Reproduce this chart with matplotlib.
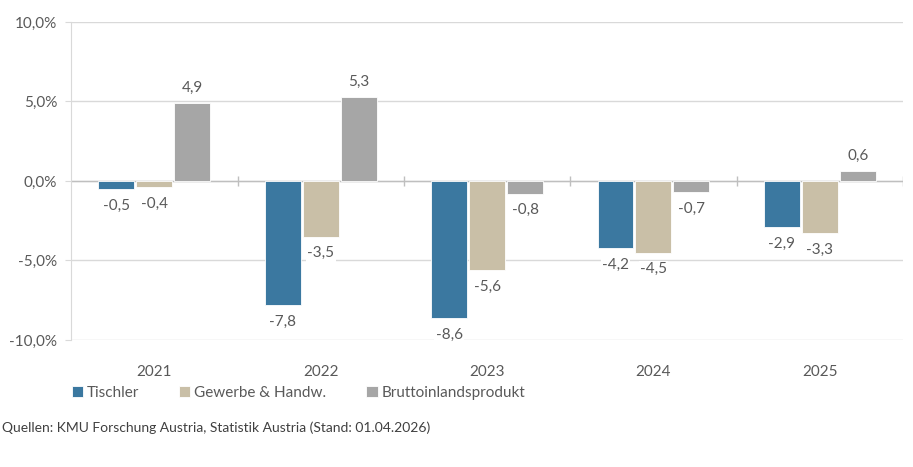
import matplotlib.pyplot as plt
import numpy as np

plt.rcParams['font.family'] = ['Lato', 'DejaVu Sans']

years = ['2021', '2022', '2023', '2024', '2025']
tischler = [-0.5, -7.8, -8.6, -4.2, -2.9]
gewerbe = [-0.4, -3.5, -5.6, -4.5, -3.3]
bip = [4.9, 5.3, -0.8, -0.7, 0.6]
series_names = ['Tischler', 'Gewerbe & Handw.', 'Bruttoinlandsprodukt']
colors = ['#3b78a0', '#c9bfa7', '#a6a6a6']
source = 'Quellen: KMU Forschung Austria, Statistik Austria (Stand: 01.04.2026)'

text_col = '#595959'
fig = plt.figure(figsize=(9.13, 4.67), dpi=100)
ax = fig.add_axes([0.078, 0.272, 0.911, 0.681])

x = np.arange(len(years))
w = 0.216
step = 0.228
for i, (vals, name, c) in enumerate(zip([tischler, gewerbe, bip], series_names, colors)):
    pos = x + (i - 1) * step
    ax.bar(pos, vals, width=w, color=c, label=name, zorder=3,
           edgecolor='white', linewidth=0.6)
    for p, v in zip(pos, vals):
        off = 0.95 if v >= 0 else -1.05
        ax.text(p, v + off, f'{v:.1f}'.replace('.', ','), ha='center', va='center',
                fontsize=11, color=text_col, zorder=4,
                bbox=dict(facecolor='white', edgecolor='none', pad=1.0))

ax.set_xlim(-0.5, len(years) - 0.5)
ax.set_ylim(-10, 10)
ax.set_yticks([-10, -5, 0, 5, 10])
ax.set_yticklabels([f'{t:.1f}%'.replace('.', ',') for t in [-10, -5, 0, 5, 10]],
                   fontsize=11, color=text_col)
ax.yaxis.grid(True, color='#d9d9d9', linewidth=1, zorder=0)
ax.tick_params(axis='y', length=4, color='#d9d9d9', pad=6)

ax.set_xticks(x)
ax.set_xticklabels(years, fontsize=11, color=text_col)
ax.tick_params(axis='x', length=0, pad=18)

# zero line with category separators
ax.axhline(0, color='#bfbfbf', linewidth=1, zorder=2)
bounds = np.arange(len(years) + 1) - 0.5
ax.vlines(bounds[1:], -0.3, 0.3, color='#bfbfbf', linewidth=1, zorder=2)

for s in ['top', 'right', 'bottom']:
    ax.spines[s].set_visible(False)
ax.spines['left'].set_color('#d9d9d9')

leg = ax.legend(loc='upper left', bbox_to_anchor=(-0.016, -0.1), ncol=3, frameon=False,
                fontsize=11, handlelength=0.75, handleheight=0.75, handletextpad=0.25,
                columnspacing=2.6, labelcolor=text_col)

fig.text(0.002, 0.085, source, fontsize=10, color='#404040', ha='left', va='center')

fig.savefig('out.png', dpi=100)
